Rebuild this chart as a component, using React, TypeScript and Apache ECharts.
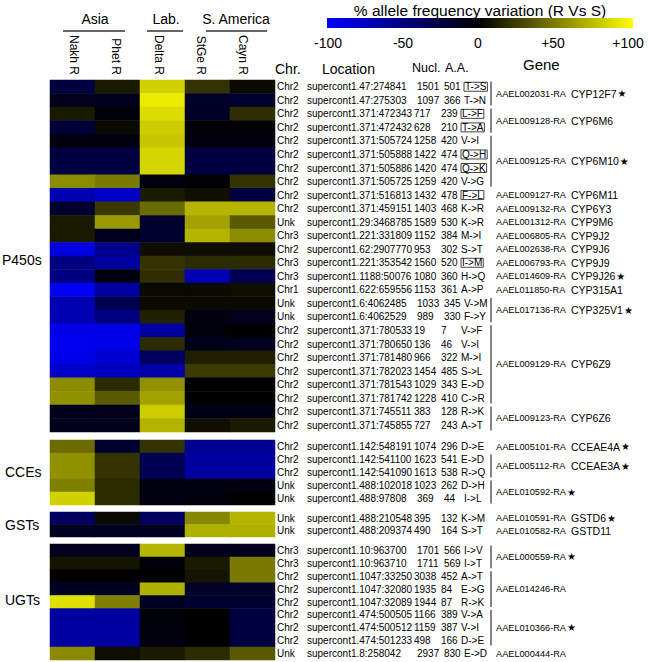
import React, { useEffect, useRef } from 'react';
import * as echarts from 'echarts';

// ---------- data ----------
const populations = ['Nakh R', 'Phet R', 'Delta R', 'StGe R', 'Cayn R'];
const regionHeaders = ['Asia', 'Lab.', 'S. America'];
const blockNames = ['P450s', 'CCEs', 'GSTs', 'UGTs'];
const colorMin = -100;
const colorMax = 100;
const colorStep = 50;

// [chr, location, nucl, aaPos, aaChange, boxed]
const p450Rows: any[] = [
  ['Chr2', 'supercont1.47:274841', '1501', '501', 'T->S', 1],
  ['Chr2', 'supercont1.47:275303', '1097', '366', 'T->N', 0],
  ['Chr2', 'supercont1.371:472343', '717', '239', 'L->F', 1],
  ['Chr2', 'supercont1.371:472432', '628', '210', 'T->A', 1],
  ['Chr2', 'supercont1.371:505724', '1258', '420', 'V->I', 0],
  ['Chr2', 'supercont1.371:505888', '1422', '474', 'Q->H', 1],
  ['Chr2', 'supercont1.371:505886', '1420', '474', 'Q->K', 1],
  ['Chr2', 'supercont1.371:505725', '1259', '420', 'V->G', 0],
  ['Chr2', 'supercont1.371:516813', '1432', '478', 'F->L', 1],
  ['Chr2', 'supercont1.371:459151', '1403', '468', 'K->R', 0],
  ['Unk', 'supercont1.29:3468785', '1589', '530', 'K->R', 0],
  ['Chr3', 'supercont1.221:331809', '1152', '384', 'M->I', 0],
  ['Chr2', 'supercont1.62:2907770', '953', '302', 'S->T', 0],
  ['Chr3', 'supercont1.221:353542', '1560', '520', 'I->M', 1],
  ['Chr3', 'supercont1.1188:50076', '1080', '360', 'H->Q', 0],
  ['Chr1', 'supercont1.622:659556', '1153', '361', 'A->P', 0],
  ['Unk', 'supercont1.6:4062485', '1033', '345', 'V->M', 0],
  ['Unk', 'supercont1.6:4062529', '989', '330', 'F->Y', 0],
  ['Chr2', 'supercont1.371:780533', '19', '7', 'V->F', 0],
  ['Chr2', 'supercont1.371:780650', '136', '46', 'V->I', 0],
  ['Chr2', 'supercont1.371:781480', '966', '322', 'M->I', 0],
  ['Chr2', 'supercont1.371:782023', '1454', '485', 'S->L', 0],
  ['Chr2', 'supercont1.371:781543', '1029', '343', 'E->D', 0],
  ['Chr2', 'supercont1.371:781742', '1228', '410', 'C->R', 0],
  ['Chr2', 'supercont1.371:745511', '383', '128', 'R->K', 0],
  ['Chr2', 'supercont1.371:745855', '727', '243', 'A->T', 0],
];
const p450Values = [
  [-25, 10, 82, 20, 4],
  [-10, -10, 92, -16, -18],
  [10, -3, 86, -15, 18],
  [-22, 4, 80, -2, -2],
  [-6, -6, 78, -6, -6],
  [-25, -25, 83, -25, -25],
  [-25, -25, 83, -25, -25],
  [55, 48, -6, -2, 20],
  [-70, -78, 10, 6, -25],
  [-18, 22, 42, 70, 70],
  [10, 60, -17, 63, 35],
  [10, -10, -18, 70, 55],
  [-88, -56, 5, 5, 5],
  [-50, -63, 20, 17, 17],
  [-50, -6, 18, -70, -32],
  [-95, -63, 4, 4, 5],
  [-70, -32, 4, 4, 4],
  [-70, -50, 13, -6, -11],
  [-91, -91, -63, -3, 0],
  [-94, -91, 17, -10, -12],
  [-91, -82, -38, 12, 12],
  [-78, -75, -66, 23, 23],
  [55, 17, 57, 0, 0],
  [57, 35, 63, 0, 0],
  [-10, -10, 80, -9, -9],
  [-10, -10, 70, 6, 10],
];
// [firstRow, lastRow, geneId, geneName, star]
const p450Genes: any[] = [
  [0, 1, 'AAEL002031-RA', 'CYP12F7', 1],
  [2, 3, 'AAEL009128-RA', 'CYP6M6', 0],
  [4, 7, 'AAEL009125-RA', 'CYP6M10', 1],
  [8, 8, 'AAEL009127-RA', 'CYP6M11', 0],
  [9, 9, 'AAEL009132-RA', 'CYP6Y3', 0],
  [10, 10, 'AAEL001312-RA', 'CYP9M6', 0],
  [11, 11, 'AAEL006805-RA', 'CYP9J2', 0],
  [12, 12, 'AAEL002638-RA', 'CYP9J6', 0],
  [13, 13, 'AAEL006793-RA', 'CYP9J9', 0],
  [14, 14, 'AAEL014609-RA', 'CYP9J26', 1],
  [15, 15, 'AAEL011850-RA', 'CYP315A1', 0],
  [16, 17, 'AAEL017136-RA', 'CYP325V1', 1],
  [18, 23, 'AAEL009129-RA', 'CYP6Z9', 0],
  [24, 25, 'AAEL009123-RA', 'CYP6Z6', 0],
];

const cceRows: any[] = [
  ['Chr2', 'supercont1.142:548191', '1074', '296', 'D->E', 0],
  ['Chr2', 'supercont1.142:541100', '1623', '541', 'E->D', 0],
  ['Chr2', 'supercont1.142:541090', '1613', '538', 'R->Q', 0],
  ['Unk', 'supercont1.488:102018', '1023', '262', 'D->H', 0],
  ['Unk', 'supercont1.488:97808', '369', '44', 'I->L', 0],
];
const cceValues = [
  [42, -18, 20, -57, -57],
  [57, 20, -32, -63, -63],
  [57, 20, -32, -63, -63],
  [50, 17, -6, -6, -6],
  [82, 17, -6, -3, 0],
];
const cceGenes: any[] = [
  [0, 0, 'AAEL005101-RA', 'CCEAE4A', 1],
  [1, 2, 'AAEL005112-RA', 'CCEAE3A', 1],
  [3, 4, 'AAEL010592-RA', '', 1],
];

const gstRows: any[] = [
  ['Unk', 'supercont1.488:210548', '395', '132', 'K->M', 0],
  ['Unk', 'supercont1.488:209374', '490', '164', 'S->T', 0],
];
const gstValues = [
  [-38, 4, -38, 53, 71],
  [-13, -13, -13, 69, 69],
];
const gstGenes: any[] = [
  [0, 0, 'AAEL010591-RA', 'GSTD6', 1],
  [1, 1, 'AAEL010582-RA', 'GSTD11', 0],
];

const ugtRows: any[] = [
  ['Chr3', 'supercont1.10:963700', '1701', '566', 'I->V', 0],
  ['Chr3', 'supercont1.10:963710', '1711', '569', 'I->T', 0],
  ['Chr2', 'supercont1.1047:33250', '3038', '452', 'A->T', 0],
  ['Chr2', 'supercont1.1047:32080', '1935', '84', 'E->G', 0],
  ['Chr2', 'supercont1.1047:32089', '1944', '87', 'R->K', 0],
  ['Chr2', 'supercont1.474:500505', '1166', '389', 'V->A', 0],
  ['Chr2', 'supercont1.474:500512', '1159', '387', 'V->I', 0],
  ['Chr2', 'supercont1.474:501233', '498', '166', 'D->E', 0],
  ['Unk', 'supercont1.8:258042', '2937', '830', 'E->D', 0],
];
const ugtValues = [
  [-10, -10, 71, -10, -10],
  [8, 8, -3, 10, 48],
  [0, 0, 0, 8, 48],
  [-13, -13, 69, -16, -16],
  [88, 50, -13, -19, -19],
  [-63, -63, -3, 0, -25],
  [-63, -63, -3, 0, -25],
  [-63, -63, -6, 0, -25],
  [54, 5, 10, 17, 35],
];
const ugtGenes: any[] = [
  [0, 1, 'AAEL000559-RA', '', 1],
  [2, 4, 'AAEL014246-RA', '', 0],
  [5, 7, 'AAEL010366-RA', '', 1],
  [8, 8, 'AAEL000444-RA', '', 0],
];

// ---------- layout ----------
const F = '"Liberation Sans", Arial, Helvetica, sans-serif';
const TXT = '#000000';
const blockLayout = [
  { top: 80, height: 352, labelX: 2, labelY: 260 },
  { top: 440, height: 65, labelX: 5, labelY: 472 },
  { top: 512, height: 25, labelX: 5, labelY: 525 },
  { top: 544, height: 116, labelX: 5, labelY: 600 },
];
const regionLayout = [
  { cx: 95, x1: 63, x2: 125 },
  { cx: 166, x1: 147, x2: 183 },
  { cx: 236, x1: 206, x2: 267 },
];
// horizontal nudge of each rotated population label (px)
const popLabelShift = [-1, 2, 4, 7, 10];

const blocks = [
  { rows: p450Rows, values: p450Values, genes: p450Genes },
  { rows: cceRows, values: cceValues, genes: cceGenes },
  { rows: gstRows, values: gstValues, genes: gstGenes },
  { rows: ugtRows, values: ugtValues, genes: ugtGenes },
];

const ROWFS = 10;
const rowRich = {
  c: { width: 30, fontSize: ROWFS, fontFamily: F, color: TXT },
  l: { width: 107, fontSize: ROWFS, fontFamily: F, color: TXT },
  ls: { width: 110, fontSize: ROWFS, fontFamily: F, color: TXT },
  n: { width: 27, fontSize: ROWFS, fontFamily: F, color: TXT },
  a: { width: 20, fontSize: ROWFS, fontFamily: F, color: TXT },
  t: { fontSize: ROWFS, fontFamily: F, color: TXT },
  b: { fontSize: ROWFS, fontFamily: F, color: TXT, borderColor: '#444', borderWidth: 1, padding: [0, 1, 0, 1], height: 9, lineHeight: 9 },
};

const geneRich = {
  i: { fontSize: 9.2, fontFamily: F, color: TXT },
  g: { fontSize: 10.5, fontFamily: F, color: TXT },
  s: { fontSize: 10, fontFamily: '"DejaVu Sans", sans-serif', color: TXT, padding: [0, 0, 0, 1] },
};

const popRich: any = {};
popLabelShift.forEach((d, k) => {
  popRich['p' + k] = {
    fontSize: 12,
    fontFamily: F,
    color: TXT,
    padding: d >= 0 ? [2 * d, 0, 0, 0] : [0, 0, -2 * d, 0],
  };
});

function buildOption() {
  const grid: any[] = [];
  const xAxis: any[] = [];
  const yAxis: any[] = [];
  const heatSeries: any[] = [];
  const customSeries: any[] = [];

  blocks.forEach((b, i) => {
    const L = blockLayout[i];
    grid.push({ left: 50, width: 225, top: L.top, height: L.height });
    xAxis.push({
      type: 'category',
      gridIndex: i,
      data: populations,
      position: 'top',
      show: i === 0,
      axisLine: { show: false },
      axisTick: { show: false },
      splitLine: { show: false },
      axisLabel: {
        rotate: 90,
        margin: 5,
        interval: 0,
        formatter: (v: string, idx: number) => `{p${idx}|${v}}`,
        rich: popRich,
      },
    });
    yAxis.push({
      type: 'category',
      gridIndex: i,
      data: b.rows.map((r) => r[1]),
      inverse: true,
      position: 'right',
      axisLine: { show: false },
      axisTick: { show: false },
      splitLine: { show: false },
      axisLabel: {
        interval: 0,
        margin: 2,
        formatter: (_v: string, idx: number) => {
          const r = b.rows[idx];
          const locKey = r[1].length >= 21 ? 'l' : 'ls';
          const aaKey = r[5] ? 'b' : 't';
          return `{c|${r[0]}}{${locKey}|${r[1]}}{n|${r[2]}}{a|${r[3]}}{${aaKey}|${r[4]}}`;
        },
        rich: rowRich,
      },
    });
    const data: any[] = [];
    b.values.forEach((row, ri) => row.forEach((v, ci) => data.push([ci, ri, v])));
    heatSeries.push({
      type: 'heatmap',
      xAxisIndex: i,
      yAxisIndex: i,
      data,
      itemStyle: { borderWidth: 0 },
      emphasis: { disabled: true },
      silent: true,
    });
    customSeries.push({
      type: 'custom',
      xAxisIndex: i,
      yAxisIndex: i,
      silent: true,
      clip: false,
      data: b.genes.map((g) => [0, g[0], g[1]]),
      renderItem: (params: any, api: any) => {
        const g = b.genes[params.dataIndex];
        const yS = api.coord([0, g[0]])[1];
        const yE = api.coord([0, g[1]])[1];
        const band = api.size([1, 1])[1];
        const yc = (yS + yE) / 2;
        const children: any[] = [];
        if (g[1] > g[0]) {
          children.push({
            type: 'line',
            shape: { x1: 491, y1: yS - band / 2 + 1.5, x2: 491, y2: yE + band / 2 - 1.5 },
            style: { stroke: '#333', lineWidth: 1.2 },
          });
        }
        const star = g[4] ? '{s|★}' : '';
        if (g[3]) {
          children.push({
            type: 'text', x: 496, y: yc,
            style: { text: `{i|${g[2]}}`, rich: geneRich, align: 'left', verticalAlign: 'middle' },
          });
          children.push({
            type: 'text', x: 571, y: yc,
            style: { text: `{g|${g[3]}}${star}`, rich: geneRich, align: 'left', verticalAlign: 'middle' },
          });
        } else {
          children.push({
            type: 'text', x: 496, y: yc,
            style: { text: `{i|${g[2]}}${star}`, rich: geneRich, align: 'left', verticalAlign: 'middle' },
          });
        }
        return { type: 'group', children };
      },
    });
  });

  // colour-bar tick axis
  grid.push({ left: 328, width: 300, top: 34, height: 1 });
  xAxis.push({
    type: 'value',
    gridIndex: 4,
    min: colorMin,
    max: colorMax,
    interval: colorStep,
    axisLine: { show: false },
    axisTick: { show: false },
    splitLine: { show: false },
    axisLabel: {
      margin: 1,
      fontSize: 14,
      fontFamily: F,
      color: TXT,
      showMinLabel: true,
      showMaxLabel: true,
      formatter: (v: number) => (v > 0 ? `+${v}` : `${v}`),
    },
  });
  yAxis.push({ type: 'value', gridIndex: 4, show: false, min: 0, max: 1 });

  const graphic: any[] = [];
  const txt = (x: number, y: number, text: string, size: number, align = 'left') => ({
    type: 'text',
    x,
    y,
    silent: true,
    style: { text, font: `${size}px ${F}`, fill: TXT, align, verticalAlign: 'middle' },
  });
  graphic.push(txt(480, 10, '% allele frequency variation (R Vs S)', 15.5, 'center'));
  graphic.push({
    type: 'rect',
    silent: true,
    shape: { x: 327, y: 18, width: 306, height: 10 },
    style: {
      fill: new echarts.graphic.LinearGradient(0, 0, 1, 0, [
        { offset: 0, color: '#0000ff' },
        { offset: 0.5, color: '#000000' },
        { offset: 1, color: '#ffff00' },
      ]),
    },
  });
  regionHeaders.forEach((h, i) => {
    const R = regionLayout[i];
    graphic.push(txt(R.cx, 19, h, 14, 'center'));
    graphic.push({
      type: 'line',
      silent: true,
      shape: { x1: R.x1, y1: 31, x2: R.x2, y2: 31 },
      style: { stroke: '#333', lineWidth: 1.5 },
    });
  });
  graphic.push(txt(275, 69, 'Chr.', 14));
  graphic.push(txt(322, 69, 'Location', 14));
  graphic.push(txt(412, 68, 'Nucl.', 12.5));
  graphic.push(txt(445, 68, 'A.A.', 12.5));
  graphic.push(txt(523, 64, 'Gene', 15));
  blockNames.forEach((n, i) => {
    graphic.push(txt(blockLayout[i].labelX, blockLayout[i].labelY, n, 14));
  });

  return {
    animation: false,
    backgroundColor: '#ffffff',
    grid,
    xAxis,
    yAxis,
    visualMap: {
      type: 'continuous',
      show: false,
      min: colorMin,
      max: colorMax,
      dimension: 2,
      seriesIndex: [0, 1, 2, 3],
      inRange: { color: ['#0000ff', '#000000', '#ffff00'] },
    },
    series: [...heatSeries, ...customSeries],
    graphic,
  };
}

export default function App() {
  const ref = useRef<HTMLDivElement>(null);
  useEffect(() => {
    if (!ref.current) return;
    const chart = echarts.init(ref.current, undefined, { renderer: 'svg' });
    chart.setOption(buildOption() as any);
    return () => chart.dispose();
  }, []);
  return (
    <div
      ref={ref}
      style={{ position: 'absolute', left: 0, top: 0, width: 648, height: 662 }}
    />
  );
}
